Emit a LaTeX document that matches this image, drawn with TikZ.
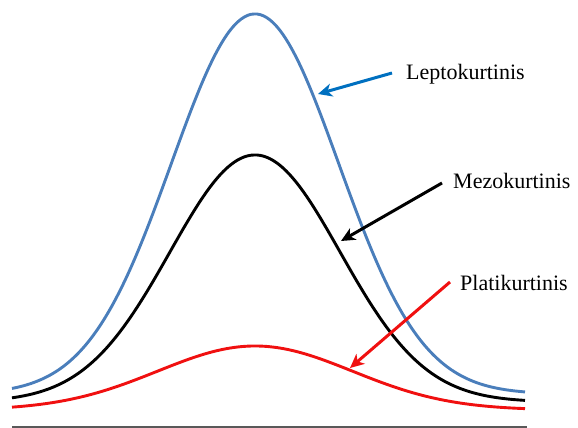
\documentclass[tikz,border=0pt]{standalone}
\usepackage{fontspec}
\setmainfont{Liberation Serif}
\usetikzlibrary{arrows.meta}
\definecolor{curveblue}{HTML}{4A7EBB}
\definecolor{arrowblue}{HTML}{0070C0}
\definecolor{curvered}{HTML}{F01010}
\tikzset{
  curve/.style={line width=2.9pt, smooth},
  pointer/.style={line width=3pt, -{Stealth[length=14pt,width=13pt,inset=4pt]}},
  lbl/.style={anchor=base west, inner sep=0pt, font=\fontsize{22}{26}\selectfont}
}
\begin{document}
\begin{tikzpicture}[x=1pt,y=-1pt]
\useasboundingbox (0,0) rectangle (578,428);
% baseline
\draw[line width=1.5pt, gray!70!black] (12,427) -- (527,427);
% curves
\draw[curve, curveblue] plot[domain=12:525, samples=160] (\x, {394-380*exp(0-((\x-255)/100)^2/1.4)});
\draw[curve, black] plot[domain=12:525, samples=160] (\x, {402-247*exp(0-((\x-255)/100)^2/1.45)});
\draw[curve, curvered] plot[domain=12:525, samples=160] (\x, {410-64*exp(0-((\x-255)/100)^2/1.9)});
% labels
\node[lbl] (lep) at (406,80) {Leptokurtinis};
\node[lbl] (mez) at (453,188) {Mezokurtinis};
\node[lbl] (pla) at (460,290) {Platikurtinis};
% arrows
\coordinate (lepTail) at (392,73);
\coordinate (lepTip) at (318,94);
\coordinate (mezTail) at (442,183);
\coordinate (mezTip) at (341,241);
\coordinate (plaTail) at (450,282);
\coordinate (plaTip) at (350,368);
\draw[pointer, arrowblue] (lepTail) -- (lepTip);
\draw[pointer, black] (mezTail) -- (mezTip);
\draw[pointer, curvered] (plaTail) -- (plaTip);
\end{tikzpicture}
\end{document}
